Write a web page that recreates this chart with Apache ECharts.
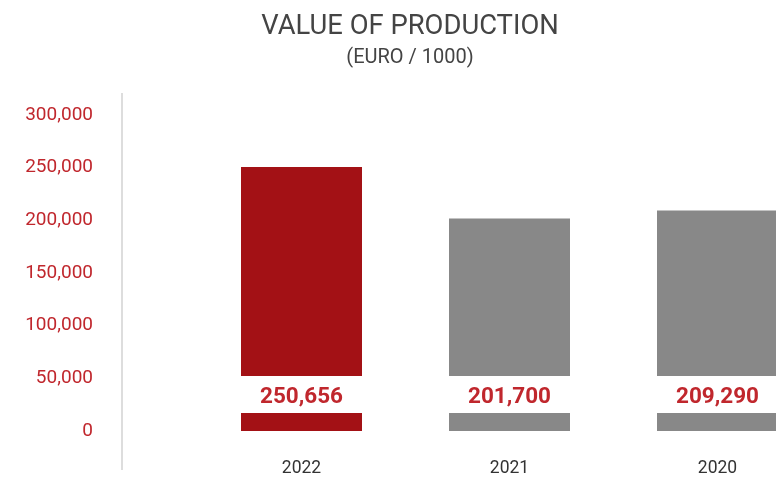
<!DOCTYPE html>
<html>
<head>
<meta charset="utf-8">
<style>html,body{margin:0;padding:0;background:#fff;}#c{width:776px;height:482px;}</style>
<script src="https://cdn.jsdelivr.net/npm/echarts@6/dist/echarts.min.js"></script>
</head>
<body>
<div id="c"></div>
<script>
var categories = ['2022', '2021', '2020'];
var values = [250656, 201700, 209290];
var barColors = ['#a31115', '#888888', '#888888'];
var yTicks = [0, 50000, 100000, 150000, 200000, 250000, 300000];

function fmt(v) { return Number(v).toLocaleString('en-US'); }

var chart = echarts.init(document.getElementById('c'), null, {renderer: 'canvas'});
chart.setOption({
  animation: false,
  backgroundColor: '#ffffff',
  title: {
    text: 'VALUE OF PRODUCTION',
    subtext: '(EURO / 1000)',
    left: 405,
    top: 9,
    textAlign: 'center',
    itemGap: 7,
    textStyle: {fontFamily: 'Roboto', fontWeight: 'normal', fontSize: 27.4, color: '#444444'},
    subtextStyle: {fontFamily: 'Roboto', fontSize: 20, color: '#444444'}
  },
  grid: {left: 197.5, top: 115, width: 624, height: 316, containLabel: false, outerBoundsMode: 'none'},
  xAxis: {
    type: 'category',
    data: categories,
    axisLine: {show: false},
    axisTick: {show: false},
    axisLabel: {fontFamily: 'Roboto', fontSize: 17.5, color: '#333333', margin: 29}
  },
  yAxis: {
    type: 'value',
    min: yTicks[0],
    max: yTicks[yTicks.length - 1],
    interval: yTicks[1] - yTicks[0],
    offset: 75.5,
    axisLine: {show: false},
    axisTick: {show: false},
    splitLine: {show: false},
    axisLabel: {fontFamily: 'Roboto', fontSize: 19, color: '#c0272d', margin: 29, formatter: fmt}
  },
  graphic: [{
    type: 'line',
    shape: {x1: 122, y1: 93, x2: 122, y2: 470},
    style: {stroke: '#dddddd', lineWidth: 2}
  }],
  series: [{
    type: 'bar',
    barWidth: 121,
    data: values.map(function (v, i) { return {value: v, itemStyle: {color: barColors[i]}}; }),
    label: {
      show: true,
      position: 'insideBottom',
      distance: 18,
      formatter: function (p) { return fmt(p.value); },
      fontFamily: 'Roboto',
      fontWeight: 'bold',
      fontSize: 22.5,
      color: '#c0272d',
      backgroundColor: '#ffffff',
      padding: [6, 0, 0, 0],
      width: 125,
      height: 31,
      lineHeight: 31,
      align: 'center',
      verticalAlign: 'bottom'
    }
  }]
});
</script>
</body>
</html>
